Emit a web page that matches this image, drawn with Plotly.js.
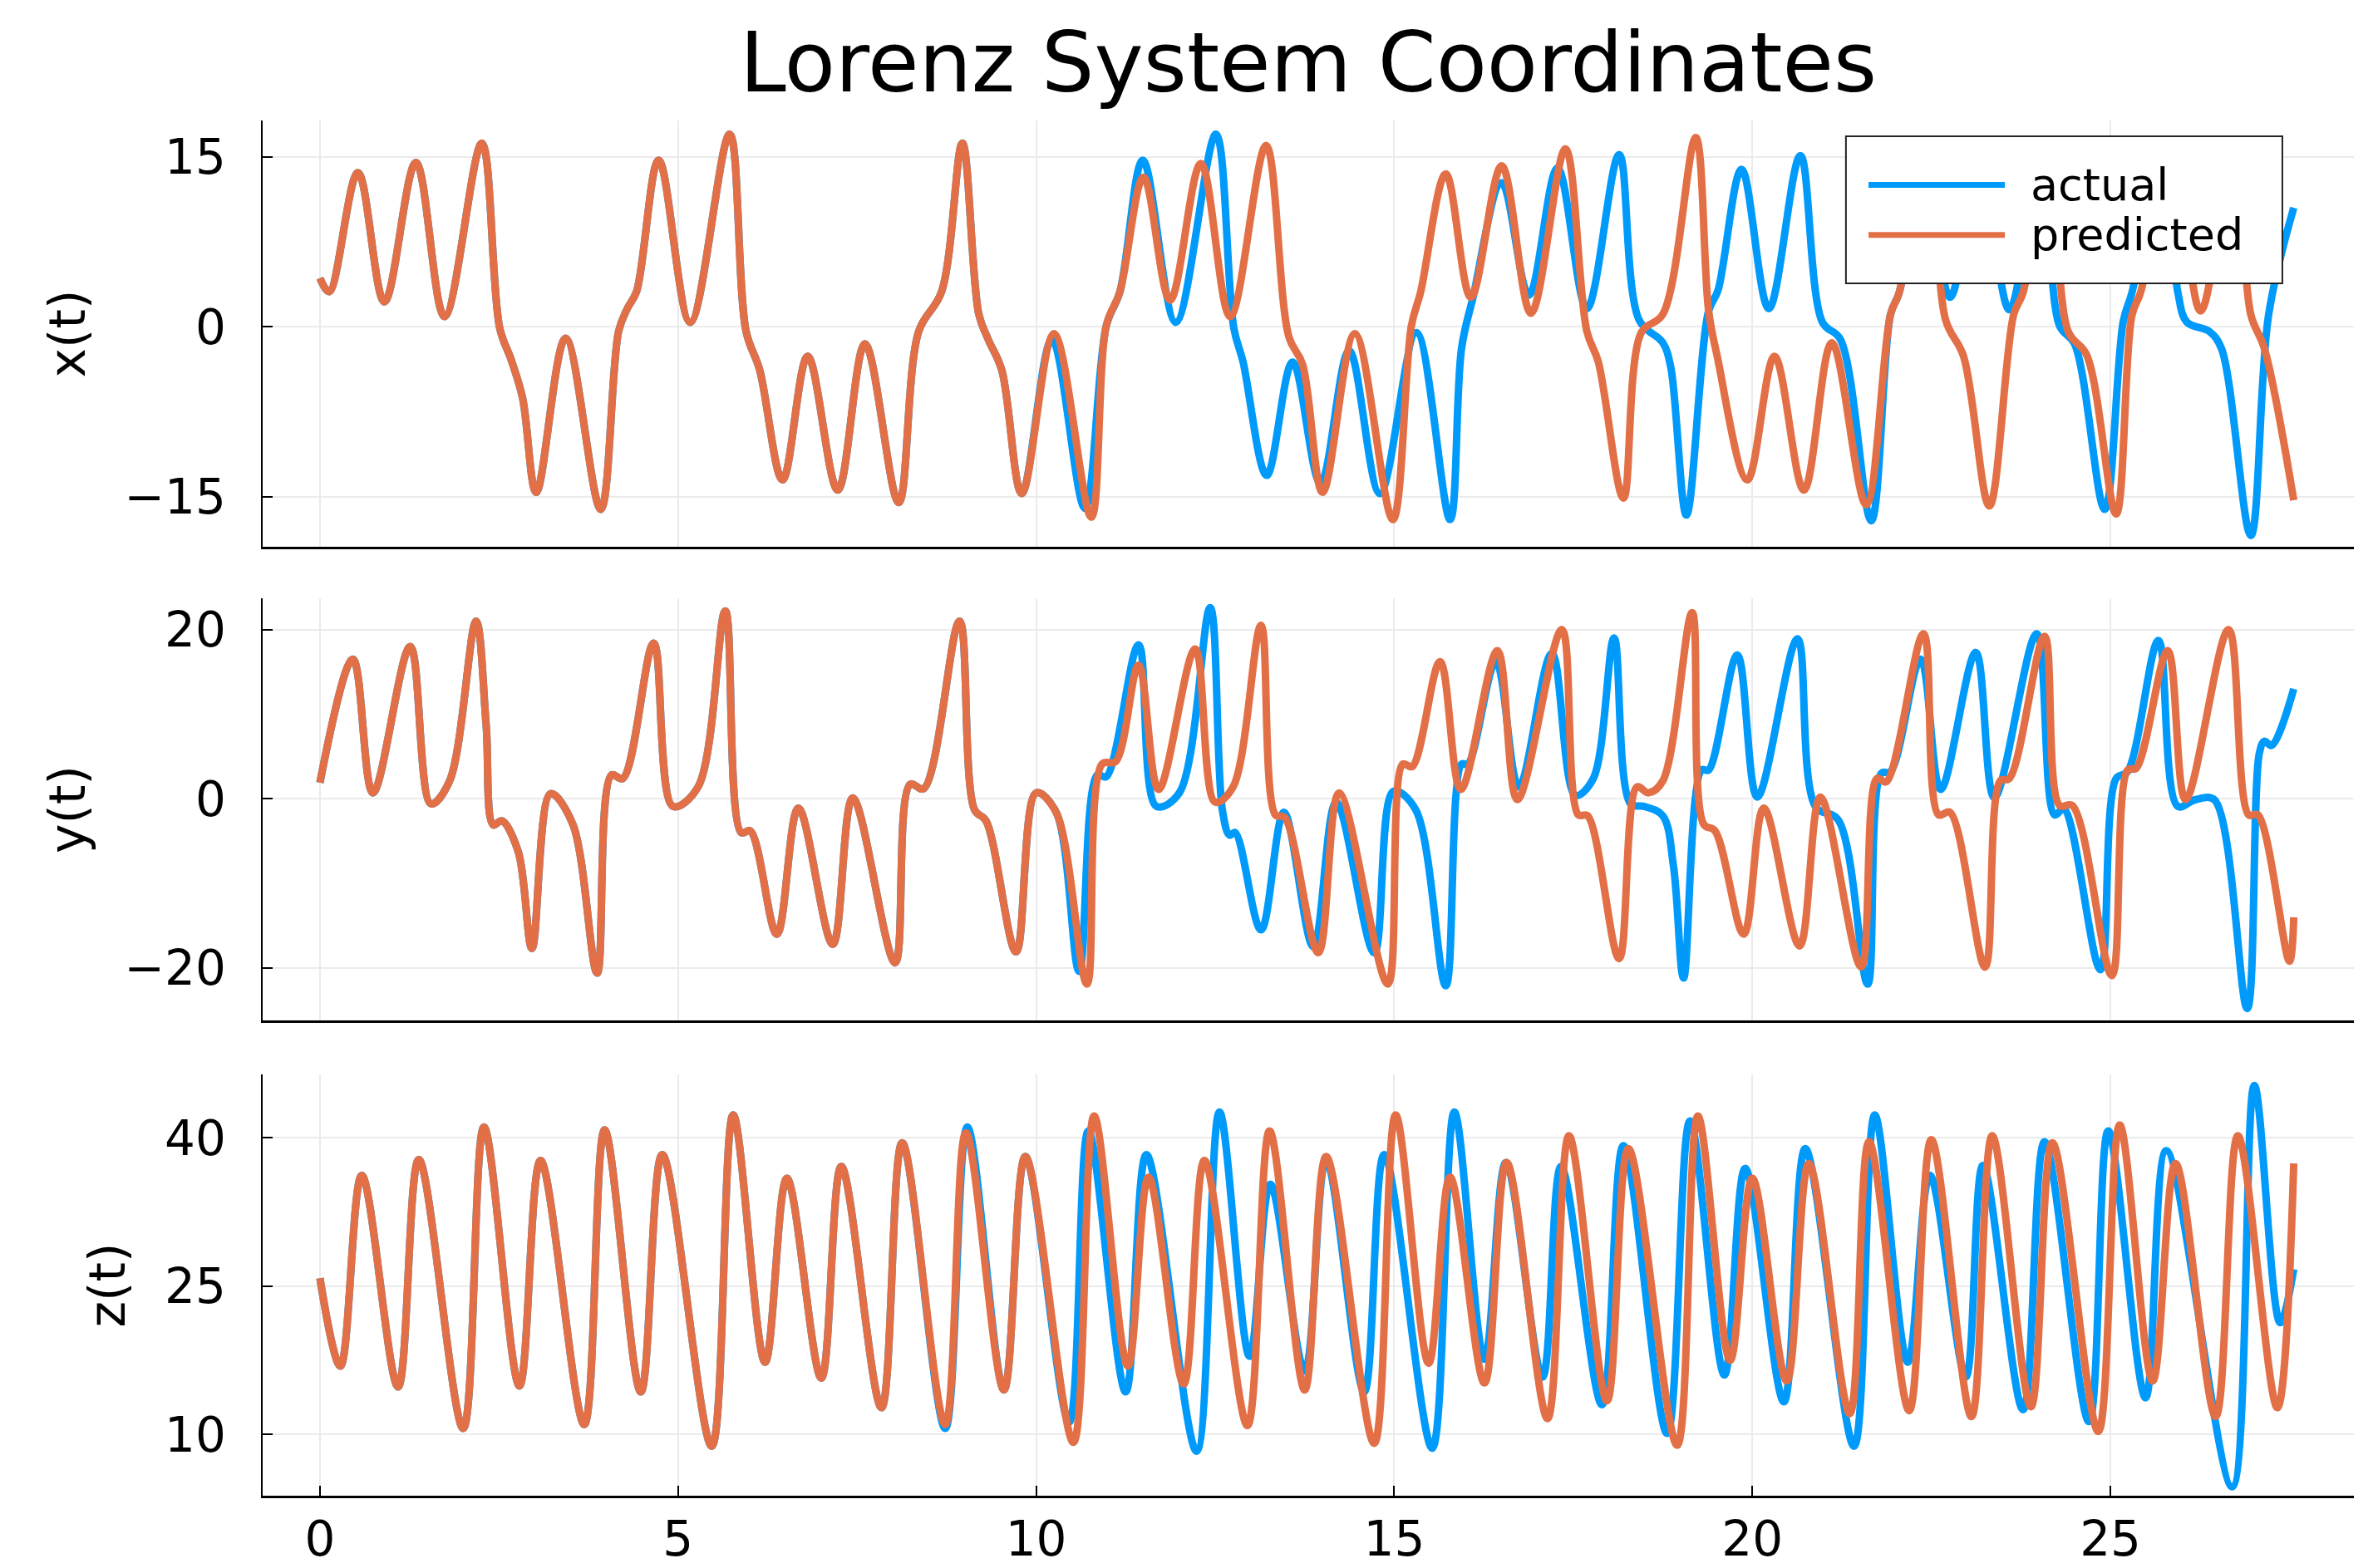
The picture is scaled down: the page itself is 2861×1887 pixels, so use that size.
<!DOCTYPE html>
<html>
<head>
<meta charset="utf-8">
<script src="https://cdn.plot.ly/plotly-3.0.1.min.js"></script>
<style>html,body{margin:0;padding:0;background:#fff;}</style>
</head>
<body>
<div id="chart" style="width:2861px;height:1887px;"></div>
<script>
// ---------- data ----------
// x(t): common part (actual and predicted overlap)
const t_x_shared = [0, 0.13, 0.53, 0.90, 1.34, 1.74, 2.26, 2.51, 2.67, 2.83, 3.02, 3.43, 3.92, 4.17, 4.29, 4.42, 4.73, 5.17, 5.72, 5.95, 6.14, 6.46, 6.81, 7.23, 7.61, 8.08, 8.36, 8.68, 8.97, 9.20, 9.33, 9.52, 9.80];
const x_shared = [4.3, 3.1, 13.6, 2.2, 14.5, 0.9, 16.2, -0.1, -2.9, -6.3, -14.6, -1.0, -16.1, -0.4, 1.6, 3.1, 14.7, 0.4, 17.0, -0.4, -3.8, -13.5, -2.6, -14.4, -1.5, -15.5, -0.4, 3.1, 16.2, 1.1, -1.1, -3.8, -14.7];
const t_x_actual = [10.22, 10.68, 10.98, 11.17, 11.49, 11.95, 12.51, 12.76, 12.89, 13.22, 13.58, 13.97, 14.37, 14.80, 15.31, 15.78, 15.94, 16.10, 16.50, 16.88, 17.28, 17.69, 18.14, 18.42, 18.75, 18.86, 19.08, 19.39, 19.52, 19.85, 20.23, 20.67, 20.98, 21.23, 21.66, 21.93, 22.05, 22.41, 22.76, 23.18, 23.59, 24.03, 24.29, 24.50, 24.92, 25.18, 25.30, 25.73, 25.94, 26.07, 26.38, 26.55, 26.96, 27.21, 27.56];
const x_actual = [-1.1, -16.0, 0.1, 3.1, 14.7, 0.4, 17.0, -0.1, -3.1, -13.1, -3.1, -13.8, -2.1, -14.7, -0.5, -17.0, -1.9, 2.6, 12.7, 2.8, 14.0, 1.6, 15.2, 0.6, -1.4, -3.5, -16.6, 1.4, 3.2, 13.9, 1.6, 15.1, 0.4, -1.1, -17.1, 1.1, 3.0, 13.2, 2.6, 13.8, 1.5, 15.6, 0.1, -1.5, -16.1, 0.5, 3.0, 15.0, 3.1, 0.4, -0.4, -1.9, -18.4, 1.1, 10.5];
const t_x_pred = [10.25, 10.77, 10.98, 11.17, 11.50, 11.87, 12.30, 12.71, 13.21, 13.53, 13.72, 14.00, 14.45, 14.98, 15.24, 15.37, 15.72, 16.07, 16.50, 16.91, 17.39, 17.69, 17.85, 18.20, 18.45, 18.75, 19.21, 19.39, 19.51, 19.93, 20.31, 20.72, 21.11, 21.59, 21.93, 22.05, 22.46, 22.70, 22.95, 23.31, 23.65, 23.78, 24.15, 24.41, 24.67, 25.08, 25.30, 25.42, 25.87, 26.26, 26.72, 26.96, 27.15, 27.56];
const x_pred = [-0.6, -16.8, 0.1, 3.1, 13.2, 2.35, 14.4, 0.9, 16.0, -0.9, -3.3, -14.6, -0.6, -17.0, 0.1, 3.1, 13.5, 2.6, 14.2, 1.2, 15.7, -0.4, -3.1, -15.1, -0.5, 1.1, 16.7, 1.4, -2.6, -13.5, -2.6, -14.4, -1.4, -15.7, 1.1, 3.0, 15.6, 0.6, -2.6, -15.8, 1.1, 3.0, 15.4, -0.4, -2.5, -16.5, 1.0, 3.0, 14.0, 1.4, 16.0, 1.1, -1.9, -15.3];

// y(t)
const t_y_shared = [0, 0.46, 0.74, 1.26, 1.55, 1.81, 2.18, 2.32, 2.42, 2.54, 2.77, 2.96, 3.22, 3.53, 3.87, 4.07, 4.23, 4.66, 4.93, 5.28, 5.66, 5.88, 6.01, 6.38, 6.68, 7.16, 7.44, 8.03, 8.24, 8.43, 8.93, 9.14, 9.30, 9.72, 10.0];
const y_shared = [1.9, 16.5, 0.7, 18.0, -0.6, 2.1, 21.0, 8.8, -3.1, -2.6, -6.3, -17.7, 0.6, -3.0, -20.6, 2.8, 2.4, 18.4, -0.9, 1.4, 22.2, -4.0, -3.8, -16.0, -1.1, -17.2, 0.1, -19.4, 1.7, 1.2, 21.0, -1.3, -2.6, -18.1, 0.7];
const t_y_actual = [10.28, 10.60, 10.85, 10.98, 11.43, 11.68, 12.00, 12.43, 12.60, 12.70, 12.78, 13.14, 13.46, 13.87, 14.19, 14.72, 14.99, 15.30, 15.72, 15.94, 16.03, 16.42, 16.74, 17.20, 17.53, 17.78, 18.07, 18.30, 18.49, 18.75, 18.90, 19.04, 19.29, 19.39, 19.79, 20.07, 20.63, 20.88, 21.20, 21.61, 21.80, 21.93, 22.35, 22.63, 23.12, 23.38, 23.97, 24.22, 24.35, 24.86, 25.08, 25.24, 25.67, 25.94, 26.19, 26.45, 26.91, 27.08, 27.15, 27.25, 27.56];
const y_actual = [-1.6, -20.4, 2.8, 2.6, 18.2, -0.9, 0.7, 22.6, -1.3, -4.3, -4.0, -15.5, -1.6, -17.5, -0.4, -18.2, 0.9, -1.3, -22.1, 4.1, 4.1, 16.2, 1.4, 17.2, 0.4, 2.4, 19.0, -0.6, -0.9, -2.0, -8.0, -21.2, 3.4, 3.4, 17.0, 0.2, 18.9, -0.9, -2.5, -21.9, 3.0, 3.2, 16.5, 1.1, 17.3, 0.1, 19.5, -1.9, -1.2, -20.2, 2.4, 3.2, 18.7, -0.9, -0.1, -0.1, -24.8, 5.4, 6.8, 6.3, 13.0];
const t_y_pred = [10.28, 10.71, 10.92, 11.11, 11.43, 11.71, 12.22, 12.50, 12.75, 13.14, 13.34, 13.47, 13.94, 14.23, 14.91, 15.12, 15.25, 15.64, 15.93, 16.44, 16.72, 17.34, 17.57, 17.70, 18.14, 18.39, 18.55, 18.75, 19.16, 19.32, 19.48, 19.88, 20.16, 20.66, 20.95, 21.52, 21.74, 21.87, 22.39, 22.60, 22.76, 23.25, 23.46, 23.59, 24.08, 24.29, 24.47, 25.02, 25.24, 25.36, 25.80, 26.05, 26.65, 26.93, 27.06, 27.50, 27.56];
const y_pred = [-1.6, -21.9, 4.1, 4.4, 15.8, 1.1, 17.7, -0.4, 1.4, 20.5, -1.9, -2.2, -18.2, 0.7, -21.9, 4.1, 3.8, 16.2, 1.1, 17.5, -0.1, 20.0, -1.9, -2.0, -18.9, 1.4, 0.7, 2.1, 22.0, -3.0, -3.8, -16.0, -1.1, -17.4, 0.2, -19.9, 2.4, 2.0, 19.5, -1.9, -1.6, -19.9, 2.1, 2.4, 19.2, -0.8, -0.8, -20.9, 3.4, 3.6, 17.5, -0.1, 20.0, -1.9, -1.9, -19.2, -14.0];

// z(t)
const t_z_shared = [0, 0.285, 0.584, 1.09, 1.38, 2.0, 2.29, 2.785, 3.08, 3.69, 3.975, 4.48, 4.78, 5.47, 5.77, 6.215, 6.52, 7.0, 7.28, 7.84, 8.13];
const z_shared = [25.8, 16.9, 36.2, 14.8, 37.8, 10.6, 41.1, 14.9, 37.7, 11.0, 40.8, 14.3, 38.3, 8.8, 42.3, 17.3, 35.9, 15.7, 37.1, 12.7, 39.5];
const t_z_actual = [8.73, 9.04, 9.55, 9.85, 10.46, 10.73, 11.25, 11.54, 12.24, 12.56, 12.98, 13.27, 13.75, 14.05, 14.58, 14.86, 15.53, 15.84, 16.26, 16.56, 17.07, 17.33, 17.90, 18.20, 18.81, 19.13, 19.61, 19.90, 20.44, 20.74, 21.42, 21.71, 22.17, 22.48, 22.98, 23.22, 23.78, 24.08, 24.70, 24.97, 25.49, 25.78, 26.70, 27.01, 27.37, 27.56];
const z_actual = [10.6, 41.1, 14.5, 38.1, 11.2, 40.7, 14.3, 38.3, 8.3, 42.6, 17.9, 35.3, 16.4, 37.8, 14.3, 38.3, 8.6, 42.6, 17.6, 37.5, 15.8, 37.1, 13.0, 39.2, 10.1, 41.7, 16.0, 36.9, 13.3, 38.9, 8.8, 42.3, 17.3, 36.2, 15.8, 37.2, 12.5, 39.6, 11.3, 40.7, 13.7, 38.7, 4.7, 45.3, 21.3, 26.7];
const t_z_pred = [8.73, 9.02, 9.55, 9.85, 10.52, 10.81, 11.28, 11.57, 12.06, 12.35, 12.95, 13.26, 13.75, 14.05, 14.72, 15.02, 15.48, 15.78, 16.26, 16.57, 17.14, 17.44, 17.97, 18.27, 18.95, 19.24, 19.69, 20.00, 20.48, 20.79, 21.36, 21.63, 22.19, 22.50, 23.06, 23.35, 23.89, 24.19, 24.83, 25.13, 25.59, 25.91, 26.47, 26.78, 27.33, 27.56];
const z_pred = [11.0, 40.5, 14.5, 38.1, 9.2, 42.2, 16.9, 36.0, 15.1, 37.7, 10.9, 40.7, 14.5, 38.1, 9.1, 42.3, 17.2, 36.0, 15.2, 37.5, 11.6, 40.2, 13.4, 38.9, 8.9, 42.2, 17.5, 35.9, 15.4, 37.4, 12.1, 39.6, 12.4, 39.8, 11.8, 40.2, 12.8, 39.5, 10.3, 41.3, 15.4, 37.4, 11.8, 40.2, 12.7, 37.4];

const seriesNames = ['actual', 'predicted'];
const panelLabels = ['x(t)', 'y(t)', 'z(t)'];
const xTicks = [0, 5, 10, 15, 20, 25];
const yTicksX = [-15, 0, 15];
const yTicksY = [-20, 0, 20];
const yTicksZ = [10, 25, 40];

// ---------- styling ----------
const COLORS = ['#009AFA', '#E26F46'];
const FONT = 'DejaVu Sans, sans-serif';
const LW = 9;

function line(tx, vy, k, xa, ya) {
  return {
    x: tx, y: vy, name: seriesNames[k], type: 'scatter', mode: 'lines',
    line: {color: COLORS[k], width: LW, shape: 'spline', smoothing: 1.0},
    xaxis: xa, yaxis: ya, showlegend: false, legendgroup: seriesNames[k]
  };
}

const traces = [
  line(t_x_shared.concat(t_x_actual), x_shared.concat(x_actual), 0, 'x', 'y'),
  line(t_x_shared.concat(t_x_pred), x_shared.concat(x_pred), 1, 'x', 'y'),
  line(t_y_shared.concat(t_y_actual), y_shared.concat(y_actual), 0, 'x2', 'y2'),
  line(t_y_shared.concat(t_y_pred), y_shared.concat(y_pred), 1, 'x2', 'y2'),
  line(t_z_shared.concat(t_z_actual), z_shared.concat(z_actual), 0, 'x3', 'y3'),
  line(t_z_shared.concat(t_z_pred), z_shared.concat(z_pred), 1, 'x3', 'y3')
];

const GRID = '#ebebeb';
const TICKFONT = {size: 58, family: FONT, color: '#000'};
function xax(anchor, showLabels) {
  return {
    anchor: anchor, domain: [0, 1], range: [-0.8, 28.4],
    tickvals: xTicks, showticklabels: showLabels,
    ticks: showLabels ? 'inside' : '', ticklen: 12, tickwidth: 2, tickcolor: '#000',
    ticklabelstandoff: 0,
    showline: true, linecolor: '#000', linewidth: 2.5,
    showgrid: true, gridcolor: GRID, gridwidth: 2, zeroline: false,
    tickfont: TICKFONT
  };
}
function yax(anchor, domain, range, ticks, label) {
  return {
    anchor: anchor, domain: domain, range: range,
    tickvals: ticks, ticks: 'inside', ticklen: 12, tickwidth: 2, tickcolor: '#000',
    ticklabelstandoff: 30,
    showline: true, linecolor: '#000', linewidth: 2.5,
    showgrid: true, gridcolor: GRID, gridwidth: 2, zeroline: false,
    tickfont: TICKFONT,
    title: {text: label, font: {size: 60, family: FONT, color: '#000'}, standoff: 28}
  };
}

// legend box (drawn in paper coordinates of the top panel area)
const LEG = {x0: 0.7571, x1: 0.9658, y0: 0.8816, y1: 0.9885,
             lx0: 0.7679, lx1: 0.8331, tx: 0.8446, rows: [0.9531, 0.9167]};
const shapes = [
  {type: 'rect', xref: 'paper', yref: 'paper', x0: LEG.x0, x1: LEG.x1, y0: LEG.y0, y1: LEG.y1,
   fillcolor: '#fff', line: {color: '#222', width: 2}, layer: 'above'}
];
const annotations = [];
seriesNames.forEach((nm, k) => {
  shapes.push({type: 'line', xref: 'paper', yref: 'paper', x0: LEG.lx0, x1: LEG.lx1,
               y0: LEG.rows[k], y1: LEG.rows[k], line: {color: COLORS[k], width: 7}, layer: 'above'});
  annotations.push({text: nm, xref: 'paper', yref: 'paper', x: LEG.tx, y: LEG.rows[k],
                    xanchor: 'left', yanchor: 'middle', showarrow: false,
                    font: {size: 54, family: FONT, color: '#000'}});
});

const layout = {
  width: 2861, height: 1887,
  paper_bgcolor: '#fff', plot_bgcolor: '#fff',
  margin: {l: 316, r: 29, t: 145, b: 87},
  font: {family: FONT, color: '#000'},
  title: {text: 'Lorenz System Coordinates', font: {size: 100, family: FONT, color: '#000'},
          x: 0.5, xref: 'paper', y: 0.960, yref: 'container', yanchor: 'middle'},
  xaxis: xax('y', false),
  xaxis2: xax('y2', false),
  xaxis3: xax('y3', true),
  yaxis: yax('x', [0.690, 1.0], [-19.4, 18.2], yTicksX, panelLabels[0]),
  yaxis2: yax('x2', [0.3456, 0.6526], [-26.2, 23.7], yTicksY, panelLabels[1]),
  yaxis3: yax('x3', [0.0, 0.3063], [3.8, 46.4], yTicksZ, panelLabels[2]),
  showlegend: false,
  shapes: shapes,
  annotations: annotations
};

Plotly.newPlot('chart', traces, layout, {staticPlot: true, displayModeBar: false});
</script>
</body>
</html>
